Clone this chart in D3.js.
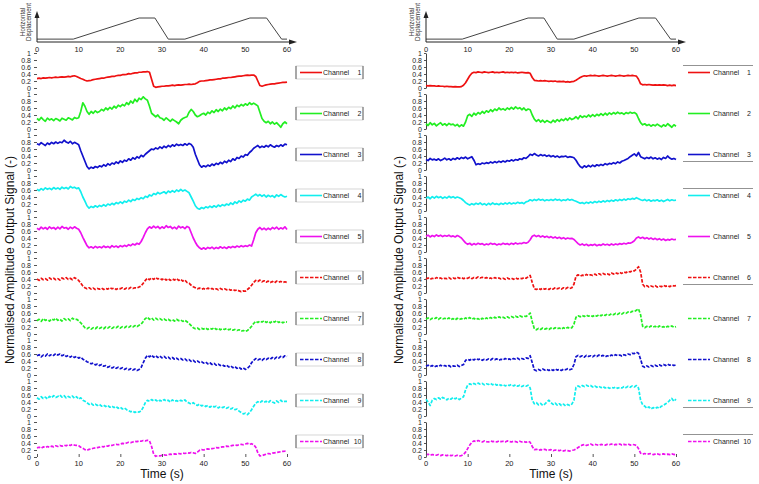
<!DOCTYPE html>
<html><head><meta charset="utf-8">
<script src="https://cdn.jsdelivr.net/npm/d3@7"></script>
<style>body{margin:0;background:#fff} text{font-family:"Liberation Sans",Arial,sans-serif}</style>
</head><body><svg id="c" width="759" height="484"></svg>
<script>
// time base: 0..60 s every 0.5 s (121 samples)
const timeStep = 0.5;
const xTicks = [0,10,20,30,40,50,60];
const yTicks = [0,0.2,0.4,0.6,0.8,1];
const channelNames = ["1","2","3","4","5","6","7","8","9","10"];
const dispTime  = [0,8.7,24.5,28.3,31.5,35.5,51.1,55.1,58.7,60];
const dispValue = [0.12,0.12,1,1,0.12,0.12,1,1,0.12,0.12];

const left1 = [0.27,0.28,0.27,0.29,0.28,0.29,0.30,0.29,0.30,0.31, 0.30,0.31,0.32,0.31,0.32,0.33,0.32,0.34,0.35,0.33, 0.30,0.27,0.25,0.22,0.20,0.21,0.22,0.24,0.25,0.26, 0.27,0.28,0.28,0.30,0.31,0.32,0.33,0.33,0.35,0.36, 0.36,0.38,0.38,0.39,0.41,0.40,0.42,0.43,0.43,0.45, 0.45,0.46,0.46,0.47,0.45,0.25,0.05,0.02,0.03,0.04, 0.05,0.05,0.06,0.06,0.07,0.08,0.07,0.08,0.09,0.08, 0.09,0.10,0.10,0.11,0.10,0.11,0.12,0.15,0.19,0.20, 0.20,0.21,0.22,0.23,0.23,0.24,0.25,0.26,0.26,0.28, 0.28,0.29,0.30,0.30,0.31,0.32,0.33,0.34,0.34,0.35, 0.36,0.37,0.36,0.37,0.37,0.33,0.20,0.07,0.05,0.07, 0.09,0.10,0.11,0.12,0.12,0.13,0.14,0.15,0.16,0.16, 0.17];
const left2 = [0.30,0.25,0.33,0.27,0.22,0.31,0.26,0.29,0.24,0.30, 0.27,0.23,0.31,0.28,0.25,0.32,0.29,0.26,0.33,0.30, 0.32,0.50,0.75,0.65,0.50,0.42,0.50,0.45,0.52,0.47, 0.50,0.56,0.52,0.60,0.55,0.62,0.57,0.65,0.60,0.68, 0.64,0.70,0.66,0.75,0.70,0.80,0.74,0.85,0.78,0.88, 0.84,0.92,0.86,0.82,0.65,0.45,0.40,0.35,0.40,0.32, 0.30,0.25,0.32,0.27,0.22,0.28,0.24,0.20,0.15,0.25, 0.30,0.33,0.35,0.48,0.56,0.50,0.40,0.35,0.38,0.42, 0.45,0.40,0.48,0.44,0.52,0.47,0.55,0.50,0.57,0.52, 0.60,0.55,0.62,0.58,0.66,0.60,0.68,0.64,0.70,0.66, 0.72,0.68,0.75,0.70,0.74,0.70,0.66,0.48,0.30,0.22, 0.18,0.22,0.15,0.20,0.14,0.18,0.12,0.05,0.15,0.20, 0.15];
const left3 = [0.75,0.72,0.78,0.74,0.70,0.77,0.73,0.79,0.75,0.80, 0.76,0.80,0.78,0.85,0.80,0.77,0.82,0.75,0.79,0.76, 0.72,0.55,0.40,0.25,0.10,0.03,0.08,0.05,0.10,0.07, 0.12,0.09,0.15,0.11,0.18,0.14,0.20,0.17,0.23,0.19, 0.26,0.22,0.28,0.25,0.32,0.28,0.35,0.31,0.38,0.34, 0.42,0.38,0.45,0.50,0.55,0.60,0.58,0.63,0.60,0.66, 0.62,0.68,0.64,0.70,0.66,0.72,0.68,0.74,0.70,0.73, 0.70,0.75,0.71,0.76,0.73,0.65,0.45,0.30,0.15,0.08, 0.12,0.09,0.14,0.11,0.17,0.13,0.19,0.16,0.22,0.18, 0.25,0.21,0.28,0.24,0.32,0.28,0.36,0.33,0.40,0.37, 0.44,0.42,0.50,0.55,0.62,0.66,0.70,0.64,0.68,0.65, 0.70,0.66,0.72,0.68,0.65,0.70,0.67,0.72,0.68,0.74, 0.72];
const left4 = [0.62,0.58,0.64,0.60,0.66,0.62,0.65,0.61,0.67,0.63, 0.66,0.62,0.68,0.64,0.67,0.63,0.70,0.66,0.68,0.64, 0.66,0.55,0.40,0.28,0.15,0.08,0.13,0.10,0.15,0.11, 0.16,0.13,0.18,0.14,0.20,0.17,0.22,0.18,0.24,0.21, 0.26,0.22,0.28,0.25,0.31,0.27,0.33,0.30,0.36,0.33, 0.38,0.35,0.42,0.39,0.46,0.43,0.50,0.47,0.53,0.49, 0.52,0.55,0.50,0.57,0.53,0.58,0.54,0.60,0.56,0.62, 0.57,0.60,0.56,0.52,0.40,0.28,0.15,0.08,0.05,0.10, 0.07,0.12,0.09,0.14,0.10,0.15,0.11,0.17,0.13,0.18, 0.15,0.20,0.17,0.23,0.19,0.26,0.22,0.29,0.25,0.31, 0.28,0.34,0.31,0.40,0.44,0.48,0.43,0.47,0.42,0.46, 0.40,0.45,0.41,0.44,0.39,0.46,0.42,0.47,0.43,0.40, 0.42];
const left5 = [0.68,0.64,0.71,0.66,0.70,0.65,0.72,0.67,0.70,0.65, 0.71,0.66,0.73,0.68,0.70,0.65,0.71,0.67,0.72,0.68, 0.65,0.55,0.42,0.30,0.18,0.12,0.15,0.11,0.16,0.12, 0.15,0.12,0.17,0.13,0.16,0.12,0.18,0.14,0.17,0.13, 0.18,0.15,0.19,0.16,0.21,0.18,0.23,0.20,0.25,0.22, 0.30,0.42,0.55,0.66,0.72,0.68,0.74,0.69,0.73,0.67, 0.72,0.68,0.75,0.70,0.73,0.67,0.71,0.66,0.74,0.69, 0.72,0.67,0.73,0.70,0.55,0.40,0.28,0.18,0.12,0.08, 0.12,0.08,0.13,0.10,0.14,0.09,0.13,0.10,0.15,0.11, 0.14,0.10,0.15,0.12,0.16,0.13,0.17,0.14,0.18,0.15, 0.18,0.16,0.20,0.17,0.35,0.55,0.65,0.70,0.64,0.68, 0.63,0.68,0.64,0.70,0.66,0.71,0.65,0.69,0.66,0.72, 0.64];
const left6 = [0.40,0.36,0.42,0.38,0.41,0.37,0.43,0.39,0.42,0.38, 0.41,0.37,0.43,0.40,0.44,0.39,0.42,0.38,0.44,0.40, 0.36,0.28,0.20,0.15,0.12,0.15,0.11,0.14,0.10,0.13, 0.11,0.14,0.10,0.13,0.11,0.15,0.12,0.14,0.10,0.13, 0.12,0.15,0.11,0.14,0.12,0.16,0.13,0.15,0.14,0.17, 0.20,0.28,0.36,0.42,0.38,0.43,0.39,0.44,0.40,0.42, 0.38,0.42,0.37,0.41,0.36,0.40,0.37,0.41,0.36,0.39, 0.34,0.37,0.30,0.28,0.22,0.18,0.15,0.12,0.14,0.11, 0.13,0.10,0.14,0.11,0.13,0.10,0.12,0.09,0.13,0.10, 0.12,0.09,0.11,0.08,0.10,0.07,0.09,0.06,0.04,0.06, 0.05,0.10,0.15,0.22,0.30,0.36,0.33,0.37,0.32,0.35, 0.31,0.34,0.30,0.33,0.29,0.34,0.31,0.33,0.30,0.32, 0.30];
const left7 = [0.38,0.42,0.36,0.44,0.39,0.41,0.37,0.43,0.40,0.45, 0.39,0.42,0.37,0.44,0.40,0.43,0.38,0.45,0.41,0.42, 0.38,0.32,0.25,0.18,0.15,0.19,0.14,0.18,0.15,0.20, 0.16,0.19,0.15,0.20,0.17,0.21,0.16,0.20,0.18,0.22, 0.17,0.21,0.18,0.22,0.19,0.23,0.20,0.24,0.21,0.25, 0.28,0.36,0.44,0.48,0.42,0.46,0.40,0.45,0.41,0.44, 0.40,0.43,0.39,0.42,0.38,0.41,0.37,0.42,0.38,0.40, 0.36,0.39,0.35,0.30,0.24,0.18,0.15,0.17,0.13,0.16, 0.14,0.17,0.13,0.16,0.14,0.18,0.13,0.16,0.12,0.15, 0.13,0.16,0.12,0.14,0.11,0.13,0.10,0.12,0.08,0.10, 0.07,0.10,0.15,0.22,0.30,0.36,0.33,0.37,0.34,0.38, 0.33,0.36,0.32,0.37,0.34,0.38,0.33,0.36,0.32,0.35, 0.34];
const left8 = [0.55,0.58,0.52,0.57,0.54,0.60,0.55,0.59,0.56,0.61, 0.57,0.60,0.55,0.58,0.53,0.56,0.51,0.55,0.50,0.53, 0.48,0.51,0.45,0.42,0.38,0.35,0.32,0.34,0.29,0.31, 0.27,0.30,0.25,0.27,0.22,0.25,0.20,0.23,0.19,0.22, 0.18,0.21,0.16,0.19,0.15,0.18,0.14,0.17,0.13,0.16, 0.22,0.35,0.48,0.56,0.52,0.57,0.51,0.55,0.50,0.54, 0.49,0.53,0.48,0.51,0.46,0.50,0.45,0.48,0.44,0.47, 0.43,0.46,0.41,0.44,0.39,0.42,0.37,0.40,0.36,0.38, 0.34,0.37,0.32,0.35,0.30,0.33,0.28,0.31,0.27,0.29, 0.25,0.28,0.23,0.26,0.21,0.24,0.19,0.22,0.17,0.20, 0.16,0.19,0.25,0.35,0.42,0.47,0.43,0.46,0.42,0.47, 0.44,0.48,0.45,0.50,0.46,0.51,0.48,0.53,0.50,0.55, 0.53];
const left9 = [0.52,0.48,0.55,0.50,0.54,0.49,0.56,0.52,0.58,0.53, 0.56,0.60,0.54,0.58,0.52,0.56,0.53,0.57,0.51,0.55, 0.48,0.52,0.45,0.42,0.38,0.33,0.36,0.31,0.34,0.30, 0.33,0.28,0.31,0.27,0.30,0.25,0.28,0.24,0.27,0.22, 0.25,0.20,0.23,0.18,0.15,0.12,0.14,0.10,0.13,0.11, 0.15,0.25,0.38,0.45,0.42,0.47,0.43,0.46,0.41,0.45, 0.42,0.47,0.43,0.45,0.40,0.46,0.42,0.44,0.41,0.45, 0.42,0.46,0.40,0.37,0.34,0.38,0.33,0.30,0.34,0.29, 0.31,0.27,0.30,0.25,0.29,0.26,0.28,0.23,0.27,0.24, 0.26,0.22,0.25,0.20,0.23,0.18,0.20,0.14,0.10,0.06, 0.08,0.04,0.10,0.18,0.28,0.36,0.41,0.38,0.43,0.39, 0.42,0.38,0.44,0.40,0.37,0.43,0.39,0.45,0.40,0.42, 0.42];
const left10 = [0.26,0.28,0.25,0.29,0.27,0.30,0.28,0.31,0.29,0.32, 0.30,0.33,0.31,0.34,0.32,0.35,0.33,0.36,0.34,0.33, 0.32,0.28,0.25,0.21,0.19,0.22,0.23,0.25,0.26,0.27, 0.28,0.30,0.29,0.32,0.31,0.34,0.33,0.35,0.36,0.35, 0.37,0.39,0.38,0.40,0.42,0.41,0.43,0.45,0.44,0.46, 0.45,0.47,0.46,0.48,0.46,0.30,0.08,0.02,0.04,0.03, 0.05,0.06,0.05,0.07,0.08,0.07,0.09,0.08,0.10,0.09, 0.11,0.10,0.12,0.11,0.13,0.12,0.10,0.14,0.19,0.21, 0.20,0.22,0.23,0.22,0.24,0.25,0.27,0.26,0.28,0.29, 0.29,0.31,0.30,0.32,0.33,0.34,0.33,0.35,0.36,0.35, 0.37,0.39,0.36,0.38,0.35,0.28,0.12,0.03,0.04,0.06, 0.08,0.10,0.09,0.11,0.12,0.13,0.14,0.15,0.16,0.17, 0.19];

const right1 = [0.07,0.06,0.07,0.06,0.06,0.05,0.06,0.05,0.05,0.04, 0.05,0.04,0.04,0.03,0.04,0.03,0.03,0.04,0.08,0.15, 0.25,0.35,0.42,0.45,0.44,0.46,0.45,0.44,0.46,0.45, 0.44,0.45,0.46,0.44,0.45,0.44,0.45,0.46,0.44,0.45, 0.44,0.45,0.44,0.45,0.43,0.44,0.45,0.44,0.43,0.44, 0.42,0.30,0.22,0.21,0.20,0.21,0.20,0.21,0.20,0.19, 0.20,0.19,0.20,0.18,0.19,0.18,0.19,0.17,0.18,0.17, 0.18,0.19,0.22,0.26,0.30,0.33,0.35,0.34,0.35,0.36, 0.35,0.36,0.35,0.34,0.35,0.36,0.35,0.34,0.35,0.36, 0.35,0.34,0.35,0.36,0.35,0.34,0.35,0.36,0.35,0.36, 0.35,0.34,0.25,0.12,0.09,0.10,0.09,0.10,0.09,0.08, 0.09,0.08,0.09,0.08,0.09,0.08,0.07,0.08,0.07,0.08, 0.07];
const right2 = [0.15,0.10,0.18,0.12,0.16,0.09,0.14,0.18,0.11,0.15, 0.10,0.16,0.12,0.14,0.09,0.13,0.07,0.12,0.08,0.20, 0.38,0.42,0.36,0.45,0.40,0.47,0.43,0.50,0.45,0.52, 0.48,0.55,0.50,0.57,0.53,0.60,0.55,0.58,0.54,0.60, 0.56,0.62,0.57,0.63,0.58,0.61,0.55,0.60,0.53,0.57, 0.55,0.40,0.28,0.22,0.27,0.20,0.25,0.19,0.24,0.21, 0.18,0.25,0.20,0.27,0.22,0.28,0.24,0.30,0.25,0.32, 0.27,0.30,0.35,0.29,0.38,0.33,0.37,0.34,0.40,0.35, 0.41,0.36,0.42,0.38,0.44,0.39,0.45,0.40,0.46,0.42, 0.47,0.43,0.48,0.44,0.46,0.42,0.47,0.44,0.48,0.45, 0.47,0.43,0.30,0.18,0.12,0.15,0.10,0.13,0.08,0.12, 0.09,0.14,0.10,0.06,0.12,0.08,0.15,0.10,0.05,0.12, 0.08];
const right3 = [0.30,0.27,0.33,0.29,0.31,0.28,0.32,0.27,0.30,0.34, 0.29,0.32,0.28,0.33,0.30,0.35,0.31,0.36,0.33,0.37, 0.32,0.35,0.38,0.28,0.15,0.18,0.16,0.20,0.18,0.21, 0.19,0.23,0.20,0.24,0.21,0.25,0.22,0.26,0.23,0.27, 0.25,0.29,0.26,0.30,0.28,0.32,0.30,0.35,0.33,0.38, 0.45,0.42,0.47,0.43,0.40,0.44,0.41,0.43,0.39,0.42, 0.38,0.41,0.37,0.40,0.36,0.39,0.38,0.40,0.36,0.38, 0.37,0.35,0.28,0.18,0.10,0.06,0.12,0.08,0.13,0.09, 0.14,0.10,0.15,0.12,0.16,0.13,0.18,0.15,0.19,0.17, 0.21,0.18,0.23,0.20,0.25,0.27,0.30,0.33,0.38,0.42, 0.46,0.40,0.50,0.38,0.35,0.32,0.36,0.33,0.37,0.32, 0.35,0.31,0.34,0.30,0.36,0.33,0.40,0.34,0.31,0.33, 0.30];
const right4 = [0.36,0.40,0.35,0.41,0.37,0.42,0.38,0.41,0.36,0.40, 0.37,0.42,0.38,0.41,0.37,0.40,0.38,0.35,0.30,0.24, 0.20,0.17,0.21,0.18,0.22,0.19,0.23,0.18,0.21,0.17, 0.22,0.18,0.23,0.19,0.21,0.18,0.22,0.19,0.23,0.20, 0.24,0.20,0.23,0.21,0.25,0.22,0.24,0.21,0.26,0.28, 0.32,0.29,0.33,0.30,0.34,0.31,0.33,0.29,0.32,0.30, 0.33,0.30,0.34,0.31,0.33,0.29,0.32,0.30,0.34,0.31, 0.33,0.30,0.28,0.25,0.22,0.24,0.21,0.25,0.22,0.26, 0.23,0.27,0.24,0.28,0.25,0.29,0.26,0.30,0.27,0.31, 0.28,0.32,0.29,0.33,0.30,0.34,0.31,0.35,0.33,0.36, 0.34,0.38,0.35,0.32,0.30,0.33,0.29,0.32,0.28,0.31, 0.29,0.32,0.28,0.31,0.27,0.30,0.33,0.29,0.32,0.30, 0.31];
const right5 = [0.45,0.48,0.43,0.47,0.44,0.49,0.45,0.48,0.44,0.47, 0.45,0.48,0.44,0.46,0.43,0.47,0.44,0.40,0.33,0.26, 0.22,0.25,0.20,0.24,0.21,0.25,0.22,0.24,0.20,0.23, 0.21,0.25,0.22,0.24,0.20,0.23,0.21,0.25,0.22,0.24, 0.21,0.25,0.22,0.26,0.23,0.25,0.24,0.27,0.25,0.28, 0.35,0.45,0.48,0.44,0.47,0.43,0.46,0.42,0.45,0.41, 0.44,0.40,0.43,0.39,0.42,0.38,0.41,0.37,0.40,0.38, 0.39,0.36,0.30,0.24,0.20,0.23,0.19,0.22,0.18,0.21, 0.19,0.22,0.18,0.21,0.19,0.23,0.20,0.22,0.19,0.23, 0.20,0.23,0.21,0.24,0.22,0.25,0.23,0.26,0.25,0.28, 0.32,0.40,0.43,0.39,0.42,0.38,0.41,0.37,0.40,0.36, 0.39,0.35,0.38,0.34,0.37,0.33,0.36,0.34,0.37,0.35, 0.36];
const right6 = [0.40,0.43,0.39,0.42,0.40,0.44,0.41,0.43,0.40,0.42, 0.41,0.44,0.40,0.43,0.41,0.45,0.42,0.44,0.41,0.43, 0.42,0.45,0.41,0.44,0.42,0.46,0.43,0.45,0.42,0.44, 0.41,0.43,0.40,0.44,0.41,0.43,0.40,0.42,0.39,0.43, 0.40,0.42,0.39,0.43,0.40,0.42,0.41,0.44,0.42,0.46, 0.50,0.30,0.12,0.10,0.13,0.10,0.14,0.11,0.13,0.10, 0.14,0.11,0.15,0.12,0.14,0.11,0.15,0.12,0.16,0.13, 0.15,0.25,0.48,0.52,0.48,0.51,0.49,0.53,0.50,0.52, 0.50,0.54,0.51,0.55,0.52,0.56,0.53,0.55,0.52,0.57, 0.54,0.58,0.55,0.59,0.56,0.60,0.58,0.62,0.60,0.64, 0.63,0.68,0.75,0.60,0.25,0.18,0.21,0.17,0.20,0.18, 0.21,0.17,0.20,0.18,0.22,0.19,0.21,0.18,0.22,0.20, 0.21];
const right7 = [0.42,0.46,0.41,0.45,0.43,0.47,0.42,0.46,0.43,0.45, 0.42,0.46,0.41,0.44,0.40,0.45,0.41,0.44,0.42,0.46, 0.43,0.47,0.42,0.45,0.41,0.44,0.40,0.45,0.42,0.46, 0.43,0.47,0.44,0.48,0.45,0.49,0.46,0.48,0.45,0.49, 0.46,0.50,0.47,0.51,0.48,0.52,0.49,0.51,0.50,0.54, 0.60,0.35,0.15,0.12,0.16,0.13,0.17,0.14,0.16,0.13, 0.17,0.14,0.18,0.15,0.17,0.14,0.18,0.15,0.19,0.16, 0.18,0.28,0.48,0.52,0.49,0.53,0.50,0.54,0.51,0.53, 0.50,0.54,0.51,0.55,0.52,0.56,0.53,0.57,0.54,0.58, 0.55,0.59,0.56,0.60,0.57,0.61,0.59,0.63,0.61,0.65, 0.64,0.68,0.72,0.55,0.22,0.18,0.22,0.19,0.23,0.20, 0.22,0.18,0.23,0.19,0.21,0.18,0.22,0.20,0.23,0.19, 0.21];
const right8 = [0.25,0.28,0.24,0.27,0.23,0.26,0.24,0.28,0.25,0.27, 0.24,0.27,0.23,0.26,0.25,0.28,0.24,0.27,0.30,0.42, 0.45,0.42,0.46,0.43,0.47,0.44,0.46,0.42,0.45,0.43, 0.46,0.43,0.47,0.44,0.46,0.42,0.45,0.43,0.47,0.44, 0.46,0.43,0.47,0.45,0.48,0.44,0.47,0.45,0.49,0.47, 0.55,0.35,0.15,0.12,0.16,0.13,0.17,0.14,0.16,0.13, 0.16,0.13,0.17,0.14,0.16,0.13,0.17,0.15,0.18,0.15, 0.17,0.30,0.52,0.56,0.52,0.55,0.51,0.56,0.53,0.55, 0.52,0.56,0.53,0.57,0.54,0.56,0.52,0.55,0.53,0.57, 0.54,0.58,0.55,0.57,0.54,0.58,0.56,0.60,0.58,0.62, 0.61,0.65,0.62,0.45,0.25,0.22,0.26,0.23,0.27,0.24, 0.28,0.25,0.29,0.26,0.30,0.27,0.31,0.28,0.30,0.27, 0.29];
const right9 = [0.48,0.40,0.30,0.45,0.50,0.47,0.52,0.48,0.53,0.50, 0.46,0.51,0.48,0.53,0.49,0.52,0.47,0.51,0.55,0.75, 0.88,0.92,0.89,0.93,0.90,0.94,0.91,0.93,0.89,0.92, 0.90,0.93,0.89,0.92,0.88,0.91,0.87,0.90,0.86,0.89, 0.87,0.90,0.86,0.89,0.85,0.88,0.84,0.87,0.85,0.88, 0.80,0.45,0.35,0.38,0.32,0.36,0.30,0.34,0.40,0.45, 0.38,0.33,0.37,0.31,0.35,0.30,0.34,0.29,0.33,0.30, 0.34,0.45,0.82,0.86,0.83,0.87,0.84,0.88,0.85,0.87, 0.83,0.86,0.82,0.85,0.81,0.84,0.80,0.83,0.79,0.82, 0.80,0.83,0.79,0.82,0.80,0.84,0.81,0.85,0.82,0.86, 0.83,0.87,0.80,0.45,0.32,0.28,0.22,0.26,0.20,0.24, 0.21,0.25,0.22,0.28,0.30,0.35,0.38,0.45,0.50,0.42, 0.48];
const right10 = [0.06,0.08,0.05,0.07,0.06,0.05,0.07,0.04,0.06,0.05, 0.04,0.06,0.04,0.05,0.03,0.05,0.03,0.04,0.07,0.14, 0.24,0.34,0.42,0.46,0.44,0.47,0.45,0.43,0.46,0.44, 0.43,0.46,0.44,0.45,0.43,0.46,0.44,0.45,0.43,0.46, 0.44,0.43,0.45,0.44,0.42,0.45,0.43,0.44,0.42,0.45, 0.42,0.30,0.21,0.22,0.19,0.21,0.20,0.22,0.19,0.20, 0.21,0.18,0.20,0.19,0.18,0.20,0.17,0.19,0.18,0.17, 0.19,0.20,0.23,0.27,0.31,0.34,0.36,0.33,0.35,0.37, 0.34,0.36,0.35,0.33,0.36,0.35,0.34,0.36,0.35,0.37, 0.34,0.36,0.35,0.37,0.34,0.36,0.35,0.37,0.34,0.36, 0.35,0.33,0.24,0.11,0.08,0.10,0.08,0.09,0.10,0.07, 0.08,0.09,0.07,0.08,0.09,0.07,0.08,0.07,0.09,0.07, 0.08];

const leftSeries  = [left1,left2,left3,left4,left5,left6,left7,left8,left9,left10];
const rightSeries = [right1,right2,right3,right4,right5,right6,right7,right8,right9,right10];
const colors = ["#ee1111","#22ee22","#1111cc","#11eeee","#ee11ee"];
// right-side legend rules: 1 = line above, -1 = line below, 0 = none
const rightRules = [1,0,-1,1,0,-1,0,0,-1,1];

const svg = d3.select("#c");
const W = 250;

function drawPanel(x0, series, isRight){
  const x = d3.scaleLinear().domain([0,60]).range([x0, x0+W]);
  const g = svg.append("g");

  // displacement sketch
  const yd = d3.scaleLinear().domain([0,1]).range([42,18]);
  const dline = d3.line().x(d=>x(d[0])).y(d=>yd(d[1]));
  g.append("path").datum(d3.zip(dispTime, dispValue)).attr("d", dline)
    .attr("fill","none").attr("stroke","#444").attr("stroke-width",1);
  g.append("line").attr("x1",x0).attr("x2",x0+254).attr("y1",42).attr("y2",42).attr("stroke","#222").attr("stroke-width",1);
  g.append("path").attr("d",`M${x0+260},42 L${x0+252},39.5 L${x0+252},44.5 Z`).attr("fill","#222");
  g.append("line").attr("x1",x0).attr("x2",x0).attr("y1",42).attr("y2",17).attr("stroke","#222").attr("stroke-width",1);
  g.append("path").attr("d",`M${x0},11 L${x0-2.5},18 L${x0+2.5},18 Z`).attr("fill","#222");
  g.selectAll(".dx").data(xTicks).join("text").attr("x",d=>x(d)).attr("y",52)
    .attr("text-anchor","middle").attr("font-size",7.5).attr("fill","#222").text(d=>d);
  g.append("text").attr("transform",`translate(${x0-12},22) rotate(-90)`).attr("text-anchor","middle")
    .attr("font-size",6.3).attr("fill","#333").text("Horizontal");
  g.append("text").attr("transform",`translate(${x0-6.5},22) rotate(-90)`).attr("text-anchor","middle")
    .attr("font-size",6.3).attr("fill","#333").text("Displacement");

  series.forEach((vals,i)=>{
    const zero = 88 + 41*i;
    const y = d3.scaleLinear().domain([0,1]).range([zero, zero-35]);
    const ax = g.append("g").attr("transform",`translate(${x0},0)`)
      .call(d3.axisLeft(y).tickValues(yTicks).tickFormat(d=>String(d))
        .tickSizeInner(isRight?2:3).tickSizeOuter(0).tickPadding(isRight?2:3));
    ax.selectAll("text").attr("font-size",7).attr("fill","#222").attr("font-family","Liberation Sans, Arial");
    ax.selectAll("line").attr("stroke","#555");
    if(isRight) ax.select(".domain").attr("stroke","#444");
    else ax.select(".domain").remove();

    const line = d3.line().x((d,k)=>x(k*timeStep)).y(d=>y(d));
    const col = colors[i%5];
    const dashed = i>=5;
    g.append("path").datum(vals).attr("d",line).attr("fill","none")
      .attr("stroke",col).attr("stroke-width",1.7).attr("stroke-linejoin","round")
      .attr("stroke-dasharray", dashed ? "3.5,1.5" : null);

    // legend
    const cy = zero - 15.5;
    if(!isRight){
      const lx = x0 + 259;
      g.append("rect").attr("x",lx).attr("y",cy-6.5).attr("width",67).attr("height",13)
        .attr("fill","#fff").attr("stroke","#bbb").attr("stroke-width",0.6);
      g.append("line").attr("x1",lx).attr("x2",lx).attr("y1",cy-6.5).attr("y2",cy+6.5).attr("stroke","#666");
      g.append("line").attr("x1",lx+67).attr("x2",lx+67).attr("y1",cy-6.5).attr("y2",cy+6.5).attr("stroke","#666");
      g.append("line").attr("x1",lx+4).attr("x2",lx+26).attr("y1",cy).attr("y2",cy)
        .attr("stroke",col).attr("stroke-width",1.6).attr("stroke-dasharray", dashed ? "3.5,1.5" : null);
      g.append("text").attr("x",lx+27).attr("y",cy+2.5).attr("font-size",7).attr("fill","#222").text("Channel");
      g.append("text").attr("x",lx+65.5).attr("y",cy+2.5).attr("text-anchor","end").attr("font-size",7).attr("fill","#222").text(channelNames[i]);
    } else {
      const lx = x0 + 257;
      if(rightRules[i]!==0){
        const ry = rightRules[i]>0 ? cy-7 : cy+7;
        g.append("line").attr("x1",lx).attr("x2",lx+70).attr("y1",ry).attr("y2",ry).attr("stroke","#777").attr("stroke-width",0.8);
      }
      g.append("line").attr("x1",lx+5).attr("x2",lx+27).attr("y1",cy).attr("y2",cy)
        .attr("stroke",col).attr("stroke-width",1.6).attr("stroke-dasharray", dashed ? "3.5,1.5" : null);
      g.append("text").attr("x",lx+30).attr("y",cy+2.5).attr("font-size",7).attr("fill","#222").text("Channel");
      g.append("text").attr("x",lx+68).attr("y",cy+2.5).attr("text-anchor","end").attr("font-size",7).attr("fill","#222").text(channelNames[i]);
    }
  });

  // bottom time axis
  const bottomZero = 88 + 41*9;
  const bx = g.append("g").attr("transform",`translate(0,${bottomZero})`)
    .call(d3.axisTop(x).tickValues(xTicks).tickSizeInner(3).tickSizeOuter(0).tickFormat(()=>""));
  bx.select(".domain").remove();
  bx.selectAll("line").attr("stroke","#555");
  g.selectAll(".bt").data(xTicks).join("text").attr("x",d=>x(d)).attr("y",bottomZero+9)
    .attr("text-anchor","middle").attr("font-size",7.5).attr("fill","#222").text(d=>d);
  g.append("text").attr("x",x0+125).attr("y",bottomZero+21).attr("text-anchor","middle")
    .attr("font-size",12).attr("fill","#111").text("Time (s)");
  g.append("text").attr("transform",`translate(${x0-23},260) rotate(-90)`).attr("text-anchor","middle")
    .attr("font-size",12).attr("fill","#111").text("Normalised Amplitude Output Signal (-)");
}

drawPanel(37, leftSeries, false);
drawPanel(426, rightSeries, true);
</script></body></html>
